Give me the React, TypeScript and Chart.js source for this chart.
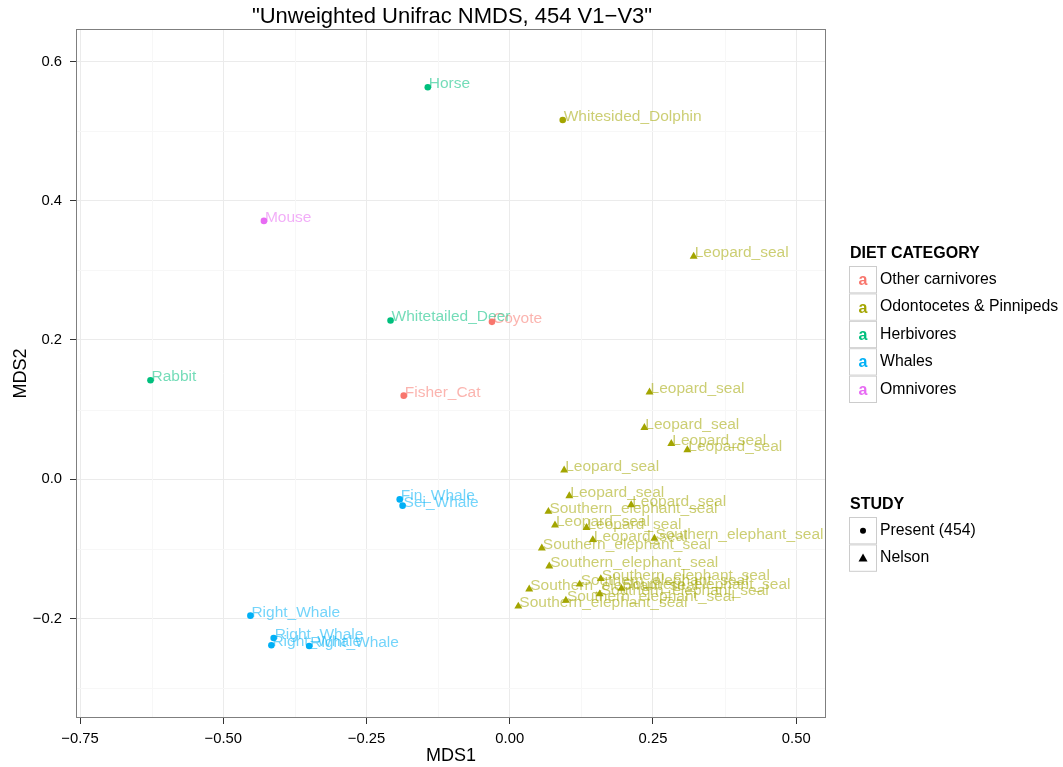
import React, { useEffect, useRef } from "react";
import { Chart, registerables } from "chart.js";

Chart.register(...registerables);

const TITLE = "\"Unweighted Unifrac NMDS, 454 V1\u2212V3\"";
const X_TITLE = "MDS1";
const Y_TITLE = "MDS2";

const xTickValues = [-0.75, -0.5, -0.25, 0, 0.25, 0.5];
const xTickLabels = ["\u22120.75", "\u22120.50", "\u22120.25", "0.00", "0.25", "0.50"];
const yTickValues = [-0.2, 0, 0.2, 0.4, 0.6];
const yTickLabels = ["\u22120.2", "0.0", "0.2", "0.4", "0.6"];
const xMinorValues = [-0.625, -0.375, -0.125, 0.125, 0.375];
const yMinorValues = [-0.3, -0.1, 0.1, 0.3, 0.5];

const dietCategories = ["Other carnivores", "Odontocetes & Pinnipeds", "Herbivores", "Whales", "Omnivores"];
const dietColors = ["#F8766D", "#A3A500", "#00BF7D", "#00B0F6", "#E76BF3"];
const studyNames = ["Present (454)", "Nelson"];

// Other carnivores, Present (454)
const carnNames = ["Coyote", "Fisher_Cat"];
const carnX = [-0.031, -0.185];
const carnY = [0.226, 0.12];

// Odontocetes & Pinnipeds, Present (454)
const dolphinNames = ["Whitesided_Dolphin"];
const dolphinX = [0.0925];
const dolphinY = [0.516];

// Odontocetes & Pinnipeds, Nelson
const sealNames = [
  "Leopard_seal", "Leopard_seal", "Leopard_seal", "Leopard_seal", "Leopard_seal",
  "Leopard_seal", "Leopard_seal", "Leopard_seal", "Southern_elephant_seal", "Leopard_seal",
  "Leopard_seal", "Leopard_seal", "Southern_elephant_seal", "Southern_elephant_seal", "Southern_elephant_seal",
  "Southern_elephant_seal", "Southern_elephant_seal", "Southern_elephant_seal", "Southern_elephant_seal", "Southern_elephant_seal",
  "Southern_elephant_seal", "Southern_elephant_seal",
];
const sealX = [
  0.321, 0.244, 0.235, 0.282, 0.31,
  0.095, 0.104, 0.212, 0.0675, 0.079,
  0.134, 0.145, 0.2525, 0.056, 0.069,
  0.159, 0.122, 0.195, 0.034, 0.157,
  0.098, 0.015,
];
const sealY = [
  0.32, 0.125, 0.074, 0.051, 0.042,
  0.013, -0.024, -0.037, -0.0465, -0.066,
  -0.0695, -0.087, -0.085, -0.099, -0.125,
  -0.143, -0.151, -0.157, -0.158, -0.165,
  -0.174, -0.1825,
];

// Herbivores, Present (454)
const herbNames = ["Horse", "Whitetailed_Deer", "Rabbit"];
const herbX = [-0.143, -0.208, -0.627];
const herbY = [0.563, 0.228, 0.142];

// Whales, Present (454)
const whaleNames = ["Fin_Whale", "Sei_Whale", "Right_Whale", "Right_Whale", "Right_Whale", "Right_Whale"];
const whaleX = [-0.192, -0.187, -0.4526, -0.412, -0.416, -0.35];
const whaleY = [-0.029, -0.038, -0.196, -0.228, -0.2385, -0.2395];

// Omnivores, Present (454)
const omniNames = ["Mouse"];
const omniX = [-0.429];
const omniY = [0.371];

const FONT = "'Liberation Sans', Arial, Helvetica, sans-serif";

function toPoints(xs: number[], ys: number[]) {
  return xs.map((x, i) => ({ x, y: ys[i] }));
}

function hexToRgba(hex: string, a: number) {
  const n = parseInt(hex.slice(1), 16);
  return `rgba(${(n >> 16) & 255},${(n >> 8) & 255},${n & 255},${a})`;
}

function lookup(values: number[], labels: string[], v: number) {
  const i = values.findIndex((t) => Math.abs(t - v) < 1e-9);
  return i >= 0 ? labels[i] : "";
}

const labelPlugin = {
  id: "pointLabels",
  beforeDatasetsDraw(chart: any) {
    const ctx = chart.ctx;
    ctx.save();
    ctx.font = `15.5px ${FONT}`;
    ctx.textAlign = "left";
    ctx.textBaseline = "alphabetic";
    chart.data.datasets.forEach((ds: any, di: number) => {
      const meta = chart.getDatasetMeta(di);
      ctx.fillStyle = hexToRgba(ds.baseColor, 0.55);
      meta.data.forEach((el: any, i: number) => {
        ctx.fillText(ds.names[i], el.x + 1, el.y + 1);
      });
    });
    ctx.restore();
  },
};

const gridPlugin = {
  id: "minorGrid",
  beforeDatasetsDraw(chart: any) {
    const { ctx, chartArea, scales } = chart;
    ctx.save();
    ctx.strokeStyle = "#F7F7F7";
    ctx.lineWidth = 1;
    xMinorValues.forEach((v) => {
      const px = Math.round(scales.x.getPixelForValue(v)) + 0.5;
      ctx.beginPath();
      ctx.moveTo(px, chartArea.top);
      ctx.lineTo(px, chartArea.bottom);
      ctx.stroke();
    });
    yMinorValues.forEach((v) => {
      const py = Math.round(scales.y.getPixelForValue(v)) + 0.5;
      ctx.beginPath();
      ctx.moveTo(chartArea.left, py);
      ctx.lineTo(chartArea.right, py);
      ctx.stroke();
    });
    ctx.restore();
  },
};

const frameAndLegendPlugin = {
  id: "frameLegend",
  afterDraw(chart: any) {
    const { ctx, chartArea } = chart;
    ctx.save();
    // panel border
    ctx.strokeStyle = "#7F7F7F";
    ctx.lineWidth = 1;
    ctx.strokeRect(chartArea.left + 0.5, chartArea.top + 0.5, chartArea.right - chartArea.left - 1, chartArea.bottom - chartArea.top - 1);

    // title
    ctx.fillStyle = "#000";
    ctx.font = `22px ${FONT}`;
    ctx.textAlign = "center";
    ctx.textBaseline = "alphabetic";
    ctx.fillText(TITLE, 452, 23);

    // legend: diet
    const keyX = 849;
    const keyW = 28;
    const keyH = 27.4;
    ctx.textBaseline = "middle";
    ctx.textAlign = "left";
    ctx.font = `bold 16px ${FONT}`;
    ctx.fillText("DIET CATEGORY", 850, 254);
    dietCategories.forEach((name, i) => {
      const top = 266 + i * keyH;
      ctx.fillStyle = "#FFFFFF";
      ctx.fillRect(keyX, top, keyW, keyH);
      ctx.strokeStyle = "#CCCCCC";
      ctx.strokeRect(keyX + 0.5, top + 0.5, keyW - 1, keyH - 1);
      ctx.fillStyle = dietColors[i];
      ctx.font = `bold 16px ${FONT}`;
      ctx.textAlign = "center";
      ctx.fillText("a", keyX + keyW / 2, top + keyH / 2 + 1);
      ctx.fillStyle = "#000";
      ctx.font = `15.8px ${FONT}`;
      ctx.textAlign = "left";
      ctx.fillText(name, 880, top + keyH / 2);
    });

    // legend: study
    ctx.font = `bold 16px ${FONT}`;
    ctx.fillText("STUDY", 850, 505);
    studyNames.forEach((name, i) => {
      const top = 517 + i * keyH;
      ctx.fillStyle = "#FFFFFF";
      ctx.fillRect(keyX, top, keyW, keyH);
      ctx.strokeStyle = "#CCCCCC";
      ctx.strokeRect(keyX + 0.5, top + 0.5, keyW - 1, keyH - 1);
      const cx = keyX + keyW / 2;
      const cy = top + keyH / 2;
      ctx.fillStyle = "#000";
      ctx.beginPath();
      if (i === 0) {
        ctx.arc(cx, cy, 3, 0, Math.PI * 2);
      } else {
        ctx.moveTo(cx, cy - 4.5);
        ctx.lineTo(cx + 4.5, cy + 3.5);
        ctx.lineTo(cx - 4.5, cy + 3.5);
        ctx.closePath();
      }
      ctx.fill();
      ctx.font = `15.8px ${FONT}`;
      ctx.textAlign = "left";
      ctx.fillText(name, 880, cy);
    });
    ctx.restore();
  },
};

function makeDataset(names: string[], xs: number[], ys: number[], colorIdx: number, triangle: boolean) {
  const color = dietColors[colorIdx];
  return {
    data: toPoints(xs, ys),
    names,
    baseColor: color,
    backgroundColor: color,
    borderColor: color,
    borderWidth: 0,
    pointStyle: triangle ? "triangle" : "circle",
    pointRadius: triangle ? 4.6 : 3.3,
    pointHoverRadius: triangle ? 4.6 : 3.3,
  };
}

export default function App() {
  const canvasRef = useRef<HTMLCanvasElement | null>(null);

  useEffect(() => {
    document.body.style.margin = "0";
    const canvas = canvasRef.current;
    if (!canvas) return;
    Chart.defaults.font.family = FONT;
    const chart = new Chart(canvas, {
      type: "scatter",
      data: {
        datasets: [
          makeDataset(carnNames, carnX, carnY, 0, false),
          makeDataset(dolphinNames, dolphinX, dolphinY, 1, false),
          makeDataset(sealNames, sealX, sealY, 1, true),
          makeDataset(herbNames, herbX, herbY, 2, false),
          makeDataset(whaleNames, whaleX, whaleY, 3, false),
          makeDataset(omniNames, omniX, omniY, 4, false),
        ] as any,
      },
      options: {
        animation: false,
        responsive: false,
        devicePixelRatio: 1,
        layout: { padding: { left: 0, right: 237, top: 29, bottom: 0 } },
        plugins: {
          legend: { display: false },
          title: { display: false },
          tooltip: { enabled: false },
        },
        scales: {
          x: {
            type: "linear",
            min: -0.757,
            max: 0.552,
            afterBuildTicks: (s: any) => {
              s.ticks = xTickValues.map((v) => ({ value: v }));
            },
            afterFit: (s: any) => {
              s.height = 49;
            },
            ticks: {
              autoSkip: false,
              maxRotation: 0,
              color: "#000",
              padding: 6,
              font: { size: 14.8, family: FONT },
              callback: (v: any) => lookup(xTickValues, xTickLabels, Number(v)),
            },
            grid: {
              color: "#EBEBEB",
              tickColor: "#333333",
              tickLength: 6,
              lineWidth: 1,
            },
            border: { display: false },
            title: {
              display: true,
              text: X_TITLE,
              color: "#000",
              font: { size: 18, family: FONT },
              padding: { top: 0, bottom: 0 },
            },
          },
          y: {
            type: "linear",
            min: -0.343,
            max: 0.6466,
            afterBuildTicks: (s: any) => {
              s.ticks = yTickValues.map((v) => ({ value: v }));
            },
            afterFit: (s: any) => {
              s.width = 76;
            },
            ticks: {
              autoSkip: false,
              color: "#000",
              padding: 8,
              font: { size: 14.8, family: FONT },
              callback: (v: any) => lookup(yTickValues, yTickLabels, Number(v)),
            },
            grid: {
              color: "#EBEBEB",
              tickColor: "#333333",
              tickLength: 6,
              lineWidth: 1,
            },
            border: { display: false },
            title: {
              display: true,
              text: Y_TITLE,
              color: "#000",
              font: { size: 18, family: FONT },
              padding: { top: 10, bottom: 0 },
            },
          },
        },
      } as any,
      plugins: [gridPlugin, labelPlugin, frameAndLegendPlugin],
    });
    return () => chart.destroy();
  }, []);

  return (
    <div style={{ width: 1063, height: 767 }}>
      <canvas ref={canvasRef} width={1063} height={767} style={{ display: "block" }} />
    </div>
  );
}
